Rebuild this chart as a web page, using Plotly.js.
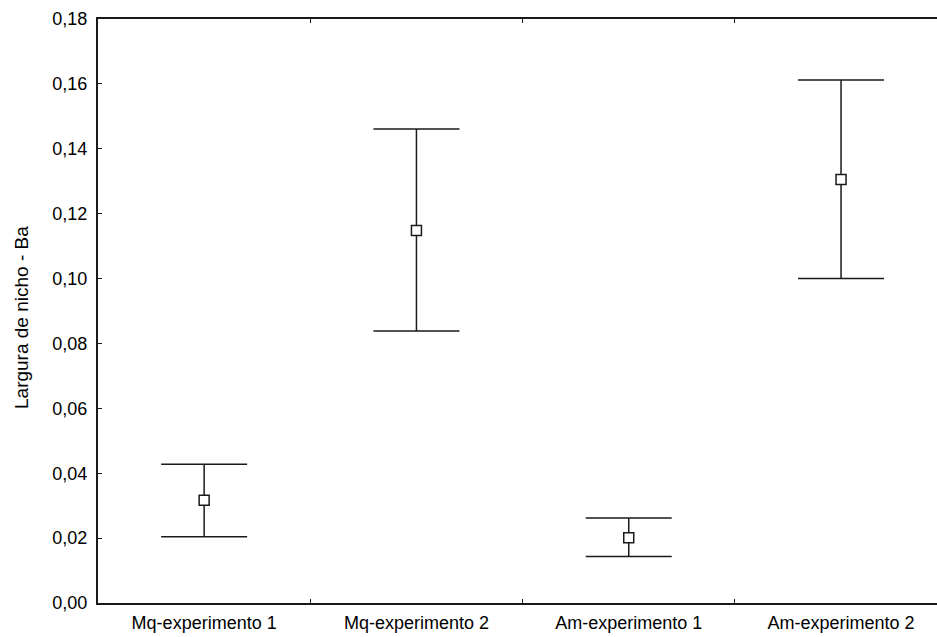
<!DOCTYPE html>
<html>
<head>
<meta charset="utf-8">
<script src="https://cdn.plot.ly/plotly-3.0.1.min.js"></script>
<style>
  html, body { margin: 0; padding: 0; background: #fff; }
  #chart { width: 937px; height: 637px; }
</style>
</head>
<body>
<div id="chart"></div>
<script>
// Niche breadth (Ba) per group: mean with upper and lower limits
const categories = ["Mq-experimento 1", "Mq-experimento 2", "Am-experimento 1", "Am-experimento 2"];
const meanValues = [0.0317, 0.1148, 0.0201, 0.1305];
const upperValues = [0.0428, 0.1461, 0.0262, 0.1612];
const lowerValues = [0.0204, 0.0838, 0.0143, 0.1000];
const yTickValues = [0, 0.02, 0.04, 0.06, 0.08, 0.10, 0.12, 0.14, 0.16, 0.18];
const yTitle = "Largura de nicho - Ba";

const plusErr = upperValues.map((u, i) => u - meanValues[i]);
const minusErr = lowerValues.map((l, i) => meanValues[i] - l);

const ink = "#1a1a1a";
const family = "Liberation Sans, Arial, sans-serif";
const font = { family: family, size: 18, color: "#000" };

const trace = {
  type: "scatter",
  mode: "markers",
  x: categories,
  y: meanValues,
  marker: { symbol: "square", size: 10, color: "#fff", line: { color: ink, width: 1.5 } },
  error_y: {
    type: "data",
    symmetric: false,
    array: plusErr,
    arrayminus: minusErr,
    color: ink,
    thickness: 1.5,
    width: 43
  },
  cliponaxis: false,
  hoverinfo: "skip"
};

const layout = {
  width: 937,
  height: 637,
  margin: { l: 98, r: 0, t: 19, b: 34 },
  paper_bgcolor: "#fff",
  plot_bgcolor: "#fff",
  separators: ",.",
  font: font,
  showlegend: false,
  xaxis: {
    type: "category",
    range: [-0.5, 3.452],
    tickson: "boundaries",
    ticks: "inside",
    ticklen: 4,
    tickwidth: 1,
    tickcolor: ink,
    showline: true,
    linecolor: ink,
    linewidth: 2,
    mirror: "ticks",
    showgrid: false,
    zeroline: false,
    ticklabelstandoff: 2,
    tickfont: font
  },
  yaxis: {
    range: [0, 0.18],
    tickvals: yTickValues,
    tickformat: ".2f",
    ticks: "inside",
    ticklen: 4,
    tickwidth: 1,
    tickcolor: ink,
    showline: true,
    linecolor: ink,
    linewidth: 2,
    mirror: false,
    showgrid: false,
    zeroline: false,
    ticklabelstandoff: 5,
    tickfont: font
  },
  annotations: [{
    text: yTitle,
    textangle: -90,
    xref: "paper", yref: "paper",
    x: 0, y: 0.5,
    xanchor: "center", yanchor: "middle",
    xshift: -77, yshift: -7,
    showarrow: false,
    font: { family: family, size: 19, color: "#000" }
  }]
};

Plotly.newPlot("chart", [trace], layout, { staticPlot: true, displayModeBar: false });
</script>
</body>
</html>
